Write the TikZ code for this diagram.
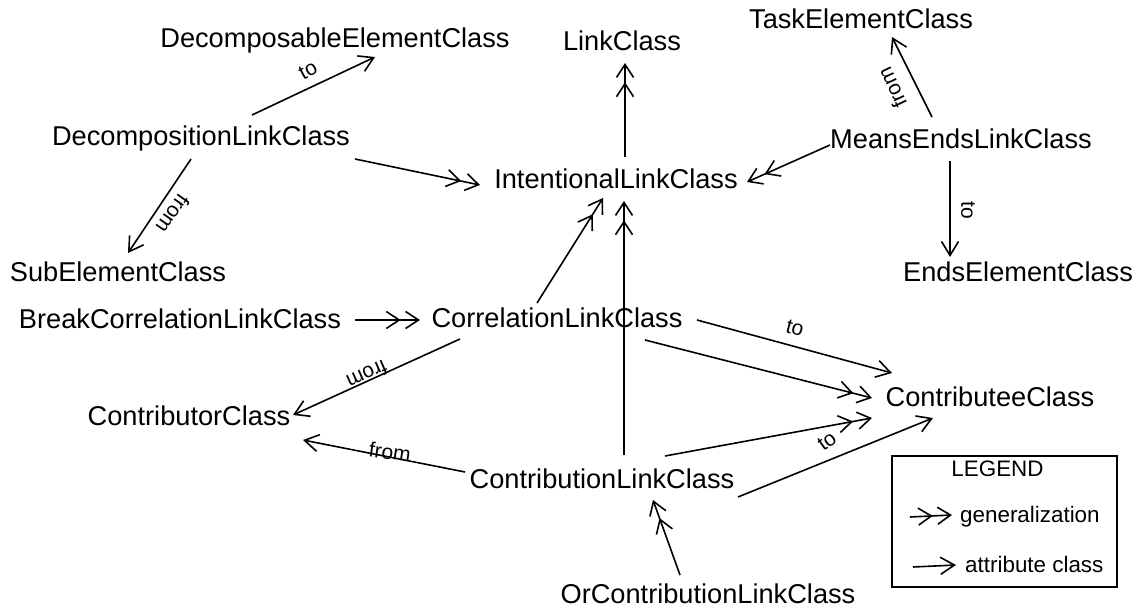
\documentclass[tikz,border=0pt]{standalone}
\usepackage{fontspec}
\setmainfont{Liberation Sans}
\usetikzlibrary{arrows.meta,calc}
\tikzset{
  cls/.style={inner sep=0pt, text height=19.5pt, text depth=0pt,
    font=\fontsize{27.2}{30}\selectfont},
  lbl/.style={inner sep=0pt, font=\fontsize{21}{24}\selectfont},
  legtext/.style={inner sep=0pt, font=\fontsize{22.4}{26}\selectfont},
  attr/.style={line width=1.6pt,
    -{Straight Barb[length=14pt,width=17pt,line width=1.6pt]}},
  gen/.style={line width=1.6pt,
    -{Straight Barb[length=13pt,width=17pt,line width=1.6pt,sep=4pt]
      Straight Barb[length=13pt,width=17pt,line width=1.6pt]}},
}
\begin{document}
\begin{tikzpicture}[x=1pt,y=-1pt]
\useasboundingbox (0,0) rectangle (1146,609);

% classes
\node[cls] (dec)  at (335,38)  {DecomposableElementClass};
\node[cls] (link) at (622,41)  {LinkClass};
\node[cls] (task) at (861,19)  {TaskElementClass};
\node[cls] (dlc)  at (201,136) {DecompositionLinkClass};
\node[cls] (ilc)  at (616,179) {IntentionalLinkClass};
\node[cls] (mel)  at (961,139) {MeansEndsLinkClass};
\node[cls] (sub)  at (118,272) {SubElementClass};
\node[cls] (ends) at (1018,272) {EndsElementClass};
\node[cls] (bcl)  at (180,319) {BreakCorrelationLinkClass};
\node[cls] (cor)  at (557,318) {CorrelationLinkClass};
\node[cls] (ctor) at (189,416) {ContributorClass};
\node[cls] (ctee) at (990,397) {ContributeeClass};
\node[cls] (con)  at (602,479) {ContributionLinkClass};
\node[cls] (ocl)  at (708,594) {OrContributionLinkClass};

% generalizations
\draw[gen] ($(dlc)+(154,23)$) -- ($(ilc)+(-136,6)$);
\draw[gen] ($(ilc)+(9,-22)$) -- ($(link)+(3,22)$);
\draw[gen] ($(mel)+(-131,6)$) -- ($(ilc)+(131,3)$);
\draw[gen] ($(bcl)+(175,1)$) -- ($(cor)+(-137,2)$);
\draw[gen] ($(cor)+(-20,-15)$) -- ($(ilc)+(-13,19)$);
\draw[gen] ($(con)+(22,-24)$) -- ($(ilc)+(8,22)$);
\draw[gen] ($(cor)+(88,22)$) -- ($(ctee)+(-118,1)$);
\draw[gen] ($(con)+(63,-23)$) -- ($(ctee)+(-118,21)$);
\draw[gen] ($(ocl)+(-28,-19)$) -- ($(con)+(51,21)$);

% attribute classes
\draw[attr] ($(dlc)+(51,-21)$) -- ($(dec)+(40,19)$);
\draw[attr] ($(dlc)+(-10,23)$) -- ($(sub)+(10,-19)$);
\draw[attr] ($(mel)+(-29,-22)$) -- ($(task)+(31,18)$);
\draw[attr] ($(mel)+(-11,22)$) -- ($(ends)+(-68,-15)$);
\draw[attr] ($(cor)+(-97,21)$) -- ($(ctor)+(104,-1)$);
\draw[attr] ($(cor)+(140,2)$) -- ($(ctee)+(-98,-24)$);
\draw[attr] ($(con)+(136,18)$) -- ($(ctee)+(-57,21)$);
\draw[attr] ($(con)+(-137,-7)$) -- ($(ctor)+(114,24)$);

% role labels
\node[lbl, rotate=28]   (l1) at (308,70)  {to};
\node[lbl, rotate=-125] (l2) at (173,214) {from};
\node[lbl, rotate=115]  (l3) at (892,88)  {from};
\node[lbl, rotate=-90]  (l4) at (968,210) {to};
\node[lbl, rotate=204]  (l5) at (367,375) {from};
\node[lbl, rotate=-15]  (l6) at (795,328) {to};
\node[lbl, rotate=35]   (l7) at (827,441) {to};
\node[lbl, rotate=-8]   (l8) at (390,452) {from};

% legend
\node[draw, line width=1.3pt, minimum width=225pt, minimum height=131pt,
      inner sep=0pt] (legend) at (1004.5,521.5) {};
\node[legtext, text height=16pt, text depth=0pt] (legtitle) at (997.5,468.5) {LEGEND};
\node[legtext, anchor=base west] (leggen) at (960,522) {generalization};
\node[legtext, anchor=base west] (legattr) at (965,572) {attribute class};
\coordinate (g1) at (910,517);
\coordinate (g2) at (952,515);
\coordinate (a1) at (913,567);
\coordinate (a2) at (956,565);
\draw[gen] (g1) -- (g2);
\draw[attr] (a1) -- (a2);
\end{tikzpicture}
\end{document}
